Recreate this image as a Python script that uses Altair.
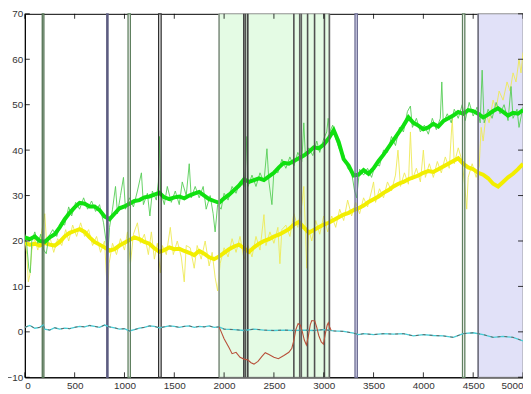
import altair as alt
import pandas as pd

W, H = 503, 367

# ---- data ----
x50 = list(range(0, 5001, 50))

green_thick = [20.8, 20.4, 21.0, 20.0, 19.8, 20.8, 21.5, 23.0, 24.8, 26.2,
               27.4, 28.4, 28.2, 27.6, 27.6, 26.8, 25.4, 24.8, 26.0, 27.2,
               27.6, 28.2, 28.8, 29.0, 29.6, 29.8, 30.2, 30.6, 29.6, 29.2,
               29.6, 29.8, 29.4, 30.0, 30.4, 30.8, 30.0, 29.2, 28.8, 28.4,
               29.4, 30.2, 31.2, 32.2, 33.6, 33.0, 33.4, 33.8, 33.4, 34.2,
               35.0, 36.2, 37.2, 37.0, 37.6, 38.2, 38.8, 39.6, 40.6, 40.4,
               41.2, 42.6, 44.4, 41.8, 38.0, 36.6, 34.4, 34.6, 35.6, 34.8,
               36.0, 37.6, 39.0, 40.6, 42.2, 43.8, 45.4, 47.2, 46.0, 45.4,
               44.6, 45.0, 45.8, 45.2, 46.4, 47.0, 47.6, 48.4, 48.0, 48.8,
               48.6, 48.0, 47.2, 47.8, 48.6, 49.2, 48.4, 47.6, 48.2, 48.0,
               48.8]

yellow_thick = [19.6, 19.2, 19.4, 19.0, 19.6, 19.2, 19.0, 19.8, 21.0, 21.8,
                22.2, 22.6, 22.0, 20.8, 19.8, 19.2, 18.6, 17.9, 18.2, 19.0,
                19.6, 20.2, 20.8, 20.4, 19.8, 19.4, 18.4, 17.6, 18.0, 18.6,
                18.2, 18.3, 17.8, 17.4, 16.9, 17.8, 17.2, 16.4, 16.0, 16.6,
                17.4, 18.2, 18.8, 19.2, 18.4, 17.6, 18.6, 19.4, 20.0, 20.4,
                21.0, 21.4, 22.0, 22.6, 23.6, 24.2, 23.0, 21.8, 22.4, 23.0,
                23.6, 24.0, 24.6, 25.2, 25.8, 26.2, 26.8, 27.2, 27.8, 28.6,
                29.2, 29.8, 30.6, 31.2, 32.0, 32.6, 33.0, 33.6, 34.0, 34.4,
                35.0, 35.4, 35.2, 35.8, 36.4, 37.0, 37.6, 38.2, 37.0, 36.2,
                35.8, 35.0, 34.6, 33.8, 32.6, 32.0, 33.0, 34.0, 34.8, 35.8,
                37.0]

green_thin_x = [0, 20, 40, 55, 70, 100, 130, 160, 190, 215, 240, 280, 320, 360,
                400, 440, 470, 510, 550, 590, 630, 670, 710, 750, 790, 815, 830,
                850, 880, 910, 930, 960, 990, 1010, 1050, 1090, 1130, 1170, 1190,
                1230, 1255, 1280, 1320, 1340, 1352, 1362, 1400, 1430, 1470, 1510,
                1550, 1580, 1620, 1650, 1670, 1710, 1750, 1790, 1820, 1860, 1890,
                1910, 1935, 1970, 2000, 2040, 2080, 2120, 2160, 2200, 2215, 2228,
                2240, 2280, 2320, 2360, 2400, 2430, 2450, 2480, 2500, 2540, 2580,
                2620, 2660, 2700, 2740, 2780, 2800, 2815, 2850, 2890, 2930, 2960,
                3000, 3030, 3045, 3060, 3090, 3120, 3160, 3200, 3240, 3280, 3310,
                3330, 3360, 3400, 3440, 3480, 3520, 3560, 3600, 3640, 3680, 3720,
                3760, 3800, 3840, 3870, 3890, 3930, 3970, 4010, 4050, 4090, 4130,
                4170, 4185, 4200, 4240, 4280, 4310, 4350, 4390, 4420, 4460, 4500,
                4540, 4570, 4590, 4610, 4650, 4690, 4730, 4770, 4810, 4850, 4880,
                4900, 4940, 4960, 5000]
green_thin_y = [21.5, 19, 14, 13, 20, 22, 19.5, 21.5, 18, 17.2, 21, 22.5, 21, 24,
                23.5, 27.5, 25.5, 28.5, 27, 29.5, 27, 28.8, 26.5, 28, 24, 20, 16,
                23, 27, 32, 26, 30, 34, 27, 29.5, 27.5, 31, 35, 28,
                30.5, 25.5, 31, 29, 33, 43, 31, 28, 32, 28.5, 31,
                28, 33, 30, 37, 29.5, 32, 29.5, 32, 27, 30, 26,
                22, 28, 27, 30.5, 29, 32, 30.5, 33, 32, 36, 43,
                32, 34.5, 32, 35, 33, 40.3, 33, 28, 35.5, 35, 38,
                36, 38.5, 36.5, 39.5, 37.5, 46, 39, 40.5, 38.8, 42, 39.5,
                42.5, 44, 47, 44, 45.5, 42.5, 40, 39, 36, 35, 31,
                29.5, 35.8, 34.5, 36, 34, 37, 36.5, 40, 39.5, 43, 41,
                45, 44, 48.5, 49.7, 45, 47, 44, 45.5, 43.5, 47, 44.5,
                47, 55, 46, 48, 46, 49, 47, 50, 46.5, 50.5, 47.5,
                49.5, 46, 57.6, 46, 49, 47, 50.5, 48, 50, 46.5, 54,
                47, 49, 45, 49.5]

yellow_thin_x = [0, 20, 35, 50, 70, 100, 130, 160, 185, 200, 220, 250, 290, 330,
                 370, 410, 440, 480, 520, 560, 600, 640, 680, 720, 760, 800, 820,
                 832, 845, 880, 920, 960, 1000, 1030, 1060, 1090, 1130, 1160, 1200,
                 1240, 1270, 1300, 1330, 1360, 1380, 1420, 1460, 1490, 1530, 1570,
                 1600, 1620, 1660, 1700, 1730, 1770, 1810, 1850, 1880, 1910, 1935,
                 1960, 2000, 2040, 2080, 2120, 2160, 2200, 2240, 2280, 2320, 2360,
                 2400, 2420, 2460, 2500, 2540, 2560, 2580, 2620, 2660, 2700, 2740,
                 2780, 2800, 2815, 2830, 2850, 2880, 2920, 2960, 3000, 3040, 3080,
                 3120, 3160, 3200, 3240, 3280, 3320, 3360, 3400, 3440, 3480, 3500,
                 3520, 3560, 3600, 3640, 3680, 3720, 3745, 3770, 3810, 3850, 3870,
                 3890, 3930, 3970, 4000, 4020, 4060, 4100, 4140, 4180, 4220, 4260,
                 4290, 4310, 4350, 4390, 4420, 4435, 4450, 4490, 4530, 4560, 4580,
                 4600, 4630, 4660, 4700, 4730, 4760, 4800, 4840, 4870, 4900, 4930,
                 4960, 4980, 5000]
yellow_thin_y = [20.5, 17, 11, 12.5, 18, 20.5, 18, 21, 24, 26, 19, 21, 17.5, 20.5,
                 19, 22.5, 20, 23.5, 21, 24, 21, 22.5, 19, 21, 17.5, 20, 12,
                 8, 15, 19.5, 17, 20.5, 18, 22, 15, 21.5, 24, 19.5, 21.5,
                 17, 22, 16, 19.5, 13, 19, 17, 23, 17, 20, 16.5,
                 11, 19, 18.5, 14, 19, 16, 20, 14.5, 17.5, 12, 9,
                 15, 18.5, 16.5, 20.5, 17.5, 21, 16, 19, 16.5, 21, 18,
                 25.8, 19, 22, 19.5, 23, 15, 22.5, 23.5, 21, 26, 23,
                 28, 32, 23, 14, 22.5, 20, 24.5, 21.5, 25.5, 22, 25.5,
                 23, 27, 24.5, 29, 25.5, 28.5, 26, 29.5, 27.5, 31, 33,
                 28.5, 31.5, 29.5, 33, 31, 34.5, 40, 32, 35, 32.5, 44,
                 33.5, 36, 33, 40, 34, 37, 34, 37.5, 35, 38.5, 36,
                 47, 37, 40.5, 37.5, 31, 27, 34, 37, 34, 36.5, 45,
                 42, 48, 46, 51, 49, 53, 51, 55, 53, 57, 55,
                 60, 57, 61.5]

cyan_x = [0, 50, 100, 150, 185, 200, 250, 300, 350, 400, 450, 500, 550, 600,
          650, 700, 750, 800, 850, 900, 950, 1000, 1050, 1100, 1150, 1200, 1250,
          1300, 1350, 1400, 1450, 1500, 1550, 1600, 1650, 1700, 1750, 1800, 1850,
          1900, 1950, 2000, 2100, 2200, 2300, 2400, 2500, 2600, 2700, 2800, 2900,
          3000, 3100, 3200, 3300, 3350, 3400, 3500, 3600, 3700, 3800, 3900, 4000,
          4100, 4200, 4300, 4400, 4450, 4500, 4600, 4700, 4800, 4900, 5000]
cyan_y = [1.0, 1.4, 0.8, 1.0, 1.5, 0.6, 0.4, 0.9, 0.6, 0.8, 0.7, 1.0, 1.2, 1.1,
          1.4, 1.2, 1.0, 1.5, 1.1, 0.9, 0.6, 0.7, 0.2, 0.5, 0.8, 1.0, 1.3,
          1.2, 0.9, 1.1, 1.3, 1.2, 1.0, 1.2, 1.3, 1.0, 1.2, 1.1, 1.3,
          1.0, 1.1, 0.6, 0.5, 0.3, 0.6, 0.4, 0.3, 0.4, 0.3, 0.4, 0.3,
          0.5, 0.2, 0.1, -0.3, -0.6, -0.4, -0.6, -0.4, -0.5, -0.4, -0.9, -0.6,
          -0.8, -0.9, -1.2, -0.4, -0.3, -0.2, -0.6, -1.2, -1.0, -1.2, -2.0]

red_x = [1950, 2000, 2050, 2080, 2120, 2160, 2200, 2240, 2270, 2300, 2340, 2380,
         2413, 2450, 2500, 2545, 2600, 2650, 2680, 2700, 2720, 2743, 2765, 2783,
         2805, 2826, 2845, 2865, 2880, 2910, 2930, 2950, 2975, 2997, 3015, 3035,
         3046, 3060, 3075]
red_y = [1.1, -1.5, -3.5, -4.8, -4.5, -5.6, -6.0, -6.2, -6.8, -7.1, -6.5, -5.4,
         -4.6, -5.0, -5.6, -5.9, -5.2, -4.5, -3.6, -1.9, 0.5, 1.8, 1.5, 0.2,
         -1.8, -2.9, -1.0, 1.6, 2.5, 2.4, 1.0, -0.8, -2.2, -2.7, -0.5, 1.5,
         2.0, 1.0, 0.3]

# shaded periods
shade_start = [1950, 4550]
shade_end = [3060, 5000]
shade_fill = ["#e4fbe4", "#e1e1f8"]

# narrow outlined event boxes
box_start = [175, 822, 1036, 1343, 3314, 4393]
box_end = [191, 835, 1059, 1368, 3337, 4416]
box_stroke = ["#4f6f4f", "#5c5c80", "#5f7f5f", "#303030", "#6a6a90", "#5f7f5f"]
box_fill = ["#ffffff", "#ffffff", "#ffffff", "#ffffff", "#e1e1f8", "#ffffff"]

# single event lines
event_x = [1950, 2198, 2215, 2238, 2700, 2759, 2775, 2838, 2908, 3007, 3056, 4550]
event_color = ["#8a9a8a", "#404040", "#505050", "#404040", "#505050", "#606060",
               "#606060", "#505050", "#505050", "#505050", "#606060", "#707080"]

x_ticks = list(range(0, 5001, 500))
y_ticks = list(range(-10, 71, 10))

# ---- chart ----
xs = alt.Scale(domain=[0, 5000], nice=False, zero=False)
ys = alt.Scale(domain=[-10, 70], nice=False, zero=False)
FONT = "Liberation Sans"

x_axis = alt.Axis(values=x_ticks, format="d", tickSize=0, labelFont=FONT,
                  labelFontSize=10, labelColor="#333333", domainColor="#000000",
                  grid=False, title=None, labelPadding=3, labelFlush=True,
                  labelOverlap=False)
y_axis = alt.Axis(values=y_ticks, format="d", tickSize=0, labelFont=FONT,
                  labelFontSize=10, labelColor="#333333", domainColor="#000000",
                  grid=False, title=None, labelPadding=2, labelOverlap=False)

shade_df = pd.DataFrame({"s": shade_start, "e": shade_end, "f": shade_fill})
shade = alt.Chart(shade_df).mark_rect(stroke="#8a8a8a", strokeWidth=0.8).encode(
    x=alt.X("s:Q", scale=xs, axis=x_axis),
    x2="e:Q",
    y=alt.value(0), y2=alt.value(H),
    fill=alt.Fill("f:N", scale=None),
)

box_df = pd.DataFrame({"s": box_start, "e": box_end, "c": box_stroke, "f": box_fill})
box_fills = alt.Chart(box_df).mark_rect(strokeWidth=0).encode(
    x=alt.X("s:Q", scale=xs), x2="e:Q",
    y=alt.value(0), y2=alt.value(H),
    fill=alt.Fill("f:N", scale=None),
)
box_edges = alt.Chart(box_df).mark_rect(strokeWidth=1.3, fillOpacity=0).encode(
    x=alt.X("s:Q", scale=xs), x2="e:Q",
    y=alt.value(0), y2=alt.value(H),
    stroke=alt.Stroke("c:N", scale=None),
)

def line(xv, yv, color, width, opacity=1.0):
    df = pd.DataFrame({"x": xv, "y": yv})
    return alt.Chart(df).mark_line(color=color, strokeWidth=width, opacity=opacity,
                                   clip=True).encode(
        x=alt.X("x:Q", scale=xs),
        y=alt.Y("y:Q", scale=ys, axis=y_axis),
    )

yel_thin = line(yellow_thin_x, yellow_thin_y, "#eeea55", 1.0, 0.9)
yel_thick = line(x50, yellow_thick, "#f2ee00", 4.0)
grn_thin = line(green_thin_x, green_thin_y, "#55cc55", 1.0, 0.9)
grn_thick = line(x50, green_thick, "#10e010", 4.0)
cyan = line(cyan_x, cyan_y, "#46cdd6", 1.3)
cyan_dark = alt.Chart(pd.DataFrame({"x": cyan_x, "y": cyan_y})).mark_line(
    color="#6a4a44", strokeWidth=0.8, strokeDash=[3, 4]).encode(
    x=alt.X("x:Q", scale=xs), y=alt.Y("y:Q", scale=ys))
red = line(red_x, red_y, "#b8503a", 1.1)

ev_df = pd.DataFrame({"x": event_x, "c": event_color})
events = alt.Chart(ev_df).mark_rule(strokeWidth=1.6).encode(
    x=alt.X("x:Q", scale=xs),
    y=alt.value(0), y2=alt.value(H),
    color=alt.Color("c:N", scale=None),
)

xt_df = pd.DataFrame({"x": x_ticks})
yt_df = pd.DataFrame({"y": y_ticks})
xt_bot = alt.Chart(xt_df).mark_rule(color="#000000", strokeWidth=0.8).encode(
    x=alt.X("x:Q", scale=xs), y=alt.value(H), y2=alt.value(H - 5))
xt_top = alt.Chart(xt_df).mark_rule(color="#000000", strokeWidth=0.8).encode(
    x=alt.X("x:Q", scale=xs), y=alt.value(0), y2=alt.value(5))
yt_left = alt.Chart(yt_df).mark_rule(color="#000000", strokeWidth=0.8).encode(
    y=alt.Y("y:Q", scale=ys), x=alt.value(0), x2=alt.value(5))
yt_right = alt.Chart(yt_df).mark_rule(color="#000000", strokeWidth=0.8).encode(
    y=alt.Y("y:Q", scale=ys), x=alt.value(W), x2=alt.value(W - 5))

chart = alt.layer(
    shade, box_fills, yel_thin, yel_thick, grn_thin, grn_thick, box_edges, events,
    cyan, cyan_dark, red, xt_bot, xt_top, yt_left, yt_right,
).properties(
    width=W, height=H,
    autosize=alt.AutoSizeParams(type="none"),
    padding={"left": 17, "top": 4, "right": 0, "bottom": 15},
    background="#ffffff",
).configure_view(
    stroke="#000000", strokeWidth=1,
)

chart.save("out.html", embed_options={"renderer": "svg", "actions": False})
